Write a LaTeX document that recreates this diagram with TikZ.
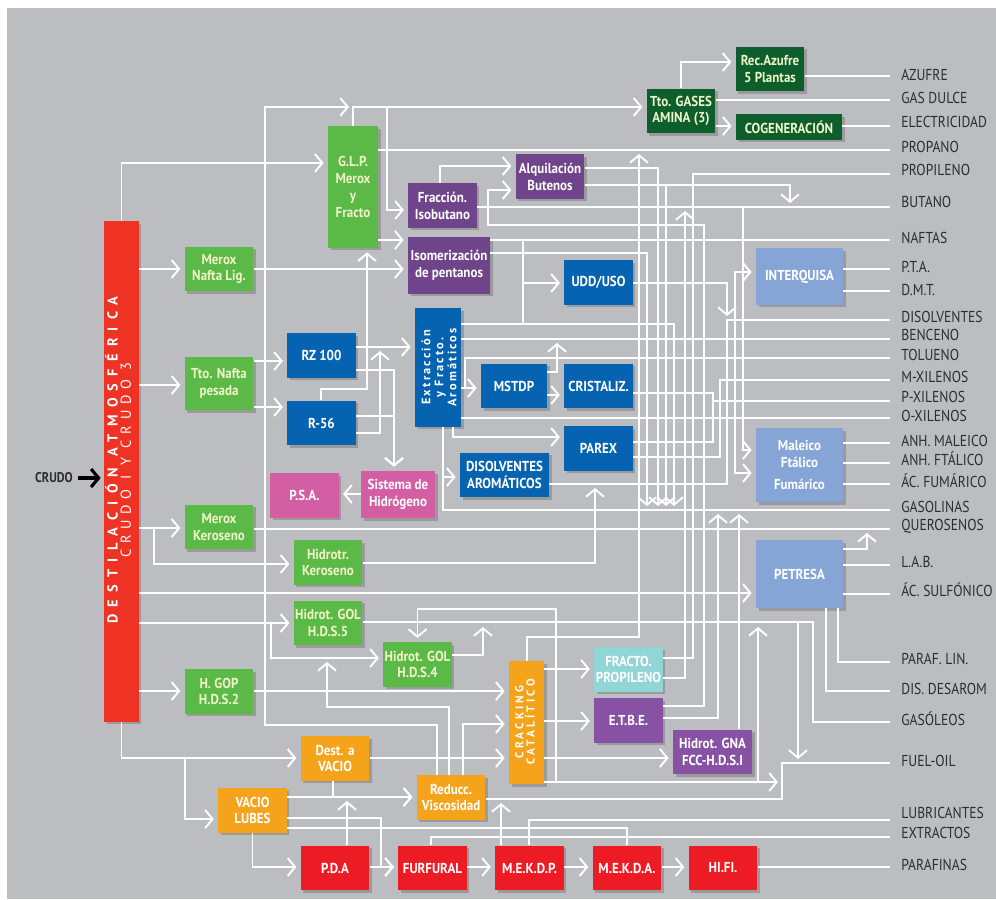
\documentclass[tikz,border=0pt]{standalone}
\usepackage{fontspec}
\setmainfont{PT Sans}
\newfontfamily\boxfamily[FakeStretch=0.9]{PT Sans}
\newfontfamily\lblfamily[FakeStretch=0.86]{PT Sans}
\newfontfamily\ttlfamily[LetterSpace=50]{PT Sans}
\newfontfamily\subfamily[LetterSpace=40]{PT Sans}
\newfontfamily\vertfamily[LetterSpace=18]{PT Sans}
\newfontfamily\crkfamily[LetterSpace=28]{PT Sans}
\usetikzlibrary{arrows.meta,shadows}
\definecolor{refbg}{RGB}{188,189,192}
\definecolor{refred}{RGB}{238,50,36}
\definecolor{refcrimson}{RGB}{237,28,36}
\definecolor{refgreen}{RGB}{91,185,71}
\definecolor{refdkgreen}{RGB}{12,94,44}
\definecolor{refpurple}{RGB}{112,68,138}
\definecolor{refviolet}{RGB}{135,82,163}
\definecolor{refblue}{RGB}{6,99,177}
\definecolor{reflight}{RGB}{134,165,215}
\definecolor{refpink}{RGB}{212,94,164}
\definecolor{refcyan}{RGB}{146,213,214}
\definecolor{reforange}{RGB}{246,163,28}
\definecolor{reftext}{RGB}{45,45,45}
\definecolor{refpale}{RGB}{240,244,200}

\begin{document}
\begin{tikzpicture}[x=0.02cm, y=-0.02cm,
  every node/.style={inner sep=0pt},
  unitbox/.style={rectangle, minimum width=1.37cm, minimum height=0.89cm,
                  align=center, text=white,
                  font=\boxfamily\bfseries\fontsize{8.2}{9.6}\selectfont,
                  drop shadow={shadow xshift=0.05cm, shadow yshift=-0.05cm,
                               fill=black, opacity=0.18}},
  grn/.style={unitbox, fill=refgreen, text=refpale},
  dgrn/.style={unitbox, fill=refdkgreen, text=refpale},
  prp/.style={unitbox, fill=refpurple},
  vio/.style={unitbox, fill=refviolet},
  blu/.style={unitbox, fill=refblue},
  lgt/.style={unitbox, fill=reflight},
  pnk/.style={unitbox, fill=refpink},
  cyn/.style={unitbox, fill=refcyan},
  org/.style={unitbox, fill=reforange},
  rbox/.style={unitbox, fill=refcrimson},
  prod/.style={anchor=west, inner xsep=0.22cm, text=reftext,
               font=\lblfamily\fontsize{9}{10}\selectfont},
  flow/.style={white, line width=1.1pt},
  feed/.style={flow, -{Straight Barb[length=0.15cm,width=0.36cm]}, shorten >=0.08cm},
]

%% ── Background ─────────────────────────────────────────────────────────
\useasboundingbox (0,0) rectangle (996,899);
\fill[white] (0,0) rectangle (996,899);
\fill[refbg] (7,8) rectangle (996,899);

%% ── Units ──────────────────────────────────────────────────────────────
\node[unitbox, fill=refred, minimum width=0.70cm, minimum height=10.02cm] (dest) at (121.5,471.5) {};
\node[rotate=90, align=center, text=white, font=\fontsize{8.2}{7.6}\selectfont] (desttxt) at (118,460)
  {{\ttlfamily\bfseries DESTILACIÓN ATMOSFÉRICA}\\{\subfamily CRUDO I Y CRUDO 3}};

\node[grn] (meroxNL) at (219,269) {Merox\\Nafta Lig.};
\node[grn, minimum width=1.0cm, minimum height=2.44cm] (glp) at (353,187) {G.L.P.\\Merox\\y\\Fracto};
\node[prp] (fracc) at (442.5,205.5) {Fracción.\\Isobutano};
\node[prp, minimum width=1.64cm, minimum height=1.14cm] (isom) at (449,265.5) {Isomerización\\de pentanos};
\node[prp] (alqui) at (550,176.5) {Alquilación\\Butenos};
\node[dgrn] (ttogas) at (681,111) {Tto. GASES\\AMINA (3)};
\node[dgrn] (recaz) at (770,69) {Rec.Azufre\\5 Plantas};
\node[dgrn, minimum width=2.12cm, minimum height=0.52cm] (cogen) at (789,127) {COGENERACIÓN};
\node[blu] (uddus) at (598.5,282.5) {UDD/USO};
\node[lgt, minimum width=1.74cm, minimum height=1.14cm] (interq) at (799.5,276.5) {INTERQUISA};

\node[grn, minimum height=1.06cm] (ttonafta) at (219,383.5) {Tto. Nafta\\pesada};
\node[blu] (rz) at (321.5,355.5) {RZ 100};
\node[blu] (r56) at (321.5,423) {R-56};
\node[blu, minimum width=0.92cm, minimum height=2.38cm] (extrac) at (438,367.5) {};
\node[rotate=90, align=center, text=white,
      font=\vertfamily\bfseries\fontsize{7}{7.4}\selectfont] (extractxt) at (439,367.5)
  {Extracción\\y Fracto.\\Aromáticos};
\node[blu, minimum width=1.32cm] (mstdp) at (514,386) {MSTDP};
\node[blu] (crist) at (598.5,386) {CRISTALIZ.};
\node[blu] (parex) at (598.5,448.5) {PAREX};
\node[blu, minimum width=1.78cm] (disarom) at (504.5,475) {DISOLVENTES\\AROMÁTICOS};
\node[pnk, minimum width=1.48cm, minimum height=0.94cm] (sistH) at (398,494.5) {Sistema de\\Hidrógeno};
\node[pnk] (psa) at (304.5,495.5) {P.S.A.};
\node[grn] (meroxK) at (219,527) {Merox\\Keroseno};
\node[grn] (hidrK) at (328,562.5) {Hidrotr.\\Keroseno};
\node[lgt, minimum width=1.74cm, minimum height=1.48cm] (malei) at (799.5,465) {Maleico\\Ftálico\\[0.1cm]Fumárico};
\node[lgt, minimum width=1.74cm, minimum height=1.36cm] (petresa) at (799.5,574) {PETRESA};

\node[grn] (hds5) at (328,623) {Hidrot. GOL\\H.D.S.5};
\node[grn] (hds4) at (417.5,664.5) {Hidrot. GOL\\H.D.S.4};
\node[grn] (hgop) at (219,691.5) {H. GOP\\H.D.S.2};
\node[org, minimum width=0.70cm, minimum height=2.46cm] (crack) at (526.5,722.5) {};
\node[rotate=90, align=center, text=white,
      font=\crkfamily\bfseries\fontsize{6.5}{6.3}\selectfont] (cracktxt) at (525,722)
  {CRACKING\\CATALÍTICO};
\node[cyn] (fracto) at (628.5,669.5) {FRACTO.\\PROPILENO};
\node[vio] (etbe) at (628.5,720.5) {E.T.B.E.};
\node[vio, minimum width=1.58cm] (hgna) at (712.5,752) {Hidrot. GNA\\FCC-H.D.S.I};

\node[org] (destvac) at (335,758.5) {Dest. a\\VACIO};
\node[org] (vaclub) at (252.5,810.5) {VACIO\\LUBES};
\node[org] (reducc) at (451,797.5) {Reducc.\\Viscosidad};
\node[rbox] (pda) at (335,868) {P.D.A};
\node[rbox] (furf) at (432.5,868) {FURFURAL};
\node[rbox] (mekdp) at (529.5,868) {M.E.K.D.P.};
\node[rbox] (mekda) at (627,868) {M.E.K.D.A.};
\node[rbox] (hifi) at (723,868) {HI.FI.};

%% ── Products ───────────────────────────────────────────────────────────
\foreach \nm/\ty/\txt in {azufre/75/AZUFRE, gasdul/98/GAS DULCE, elect/122/ELECTRICIDAD,
    propano/147/PROPANO, propil/170/PROPILENO, butano/202/BUTANO, naftas/238/NAFTAS,
    pta/267/P.T.A., dmt/290/D.M.T., disolv/317/DISOLVENTES, benc/335/BENCENO,
    tolu/355/TOLUENO, mxil/377/M-XILENOS, pxil/397/P-XILENOS, oxil/416/O-XILENOS,
    amal/441/ANH. MALEICO, afta/459/ANH. FTÁLICO, afum/481/ÁC. FUMÁRICO,
    gasol/507/GASOLINAS, queros/526/QUEROSENOS, lab/562/L.A.B., sulf/590/ÁC. SULFÓNICO,
    paraf/659/PARAF. LIN., disdes/689/DIS. DESAROM, gasoleo/719/GASÓLEOS,
    fuel/761/FUEL-OIL, lubric/813/LUBRICANTES, extract/833/EXTRACTOS,
    parafinas/865/PARAFINAS}
  \node[prod] (\nm) at (890,\ty) {\txt};

%% ── Crude feed ─────────────────────────────────────────────────────────
\node[text=reftext, font=\lblfamily\bfseries\fontsize{8}{9}\selectfont] (crudo) at (54,478) {CRUDO};
\draw[black, line width=1.8pt, -{Straight Barb[length=0.15cm,width=0.36cm]},
      shorten <=0.1cm, shorten >=0.06cm] (crudo.east) -- (dest.west |- crudo.east);

%% ── Light ends ─────────────────────────────────────────────────────────
\draw[feed] (dest.north) |- (glp.west |- 0,163);
\draw[feed] (437,0 |- reducc.north) |- (265,725) |- (glp.north |- 0,107);
\draw[feed] (glp.north) |- (ttogas.west |- 0,107);
\draw[feed] (glp.north) |- (387,107) |- (fracc.west |- 0,210);
\draw[flow] (glp.east |- 0,150) -- (propano.west |- 0,150);
\draw[feed] (glp.east |- 0,240) -- (isom.west |- 0,240);
\draw[feed] (dest.east |- 0,269) -- (meroxNL.west |- 0,269);
\draw[feed] (meroxNL.east |- 0,269) -- (isom.west |- 0,269);
\draw[feed] (ttogas.north) |- (recaz.west |- 0,62);
\draw[flow] (ttogas.east |- 0,100) -- (gasdul.west |- 0,100);
\draw[feed] (ttogas.east |- 0,126) -- (cogen.west |- 0,126);
\draw[flow] (recaz.east |- 0,76) -- (azufre.west |- 0,76);
\draw[flow] (cogen.east |- 0,126) -- (elect.west |- 0,126);

%% ── C4 / C5 ────────────────────────────────────────────────────────────
\draw[feed] (440,0 |- fracc.north) |- (alqui.west |- 0,166);
\draw[flow] (fracc.east |- 0,207) -- (butano.west |- 0,207);
\draw[feed] (fracc.east |- 0,207) -| (743,450) -- (malei.west |- 0,450);
\draw[feed] (alqui.east |- 0,185) -| (790,207);
\draw[feed] (alqui.east |- 0,168) -| (658,510);
\draw[feed] (alqui.east |- 0,185) -| (666,510);
\draw[flow] (isom.east |- 0,240) -- (naftas.west |- 0,240);
\draw[flow] (isom.east |- 0,240) -| (523,324);
\draw[feed] (isom.east |- 0,240) -| (523,283) -- (uddus.west |- 0,283);
\draw[feed] (isom.east |- 0,253) -| (647,510);
\draw[feed] (uddus.east |- 0,283) -| (727,320);
\draw[flow] (interq.east |- 0,269) -- (pta.west |- 0,269);
\draw[flow] (interq.east |- 0,291) -- (dmt.west |- 0,291);

%% ── Reforming and aromatics ────────────────────────────────────────────
\draw[feed] (dest.east |- 0,385) -- (ttonafta.west |- 0,385);
\draw[feed] (ttonafta.east |- 0,361) -- (rz.west |- 0,361);
\draw[feed] (ttonafta.east |- 0,407) -- (r56.west |- 0,407);
\draw[feed] (rz.east |- 0,347) -- (extrac.west |- 0,347);
\draw[feed] (rz.east |- 0,370) -| (394,0 |- sistH.north);
\draw[feed] (r56.east |- 0,416) -| (394,0 |- sistH.north);
\draw[feed] (r56.east |- 0,433) -| (380,347);
\draw[feed] (321,0 |- r56.north) |- (367,389) -- (glp.south -| 367,0);
\draw[feed] (sistH.west |- 0,494) -- (psa.east |- 0,494);

\draw[feed] (extrac.east |- 0,324) -| (674,510);
\draw[flow] (extrac.east |- 0,339) -- (benc.west |- 0,339);
\draw[feed] (extrac.east |- 0,388) -- (mstdp.west |- 0,388);
\draw[flow] (extrac.east |- 0,388) -| (465,358) -- (tolu.west |- 0,358);
\draw[flow] (extrac.east |- 0,418) -- (oxil.west |- 0,418);
\draw[feed] (453,0 |- extrac.south) |- (parex.west |- 0,437);
\draw[feed] (443,0 |- extrac.south) |- (disarom.west |- 0,477);
\draw[flow] (443,0 |- extrac.south) |- (gasol.west |- 0,510);
\draw[feed] (mstdp.east |- 0,395) -- (crist.west |- 0,395);
\draw[feed] (mstdp.east |- 0,372) -| (557,339);
\draw[flow] (crist.east |- 0,393) -| (713,401) -- (pxil.west |- 0,401);
\draw[flow] (parex.east |- 0,442) -| (713,401);
\draw[flow] (parex.east |- 0,457) -| (720,380) -- (mxil.west |- 0,380);
\draw[feed] (crist.east |- 0,393) -| (713,401) -| (735,272) -- (interq.west |- 0,272);
\draw[feed] (crist.east |- 0,393) -| (713,401) -| (735,473) -- (malei.west |- 0,473);
\draw[flow] (disarom.east |- 0,484) -| (727,320) -- (disolv.west |- 0,320);
\draw[flow] (malei.east |- 0,443) -- (amal.west |- 0,443);
\draw[flow] (malei.east |- 0,463) -- (afta.west |- 0,463);
\draw[flow] (malei.east |- 0,484) -- (afum.west |- 0,484);

%% ── Kerosene and PETRESA ───────────────────────────────────────────────
\draw[feed] (dest.east |- 0,528) -- (meroxK.west |- 0,528);
\draw[feed] (dest.east |- 0,528) -| (154,564) -- (hidrK.west |- 0,564);
\draw[flow] (meroxK.east |- 0,529) -- (queros.west |- 0,529);
\draw[feed] (hidrK.east |- 0,563) -| (595,484);
\draw[feed] (dest.east |- 0,593) -- (petresa.west |- 0,593);
\draw[feed] (petresa.east |- 0,549) -| (867,529);
\draw[flow] (petresa.east |- 0,565) -- (lab.west |- 0,565);
\draw[flow] (petresa.east |- 0,594) -- (sulf.west |- 0,594);
\draw[flow] (838,0 |- petresa.south) |- (paraf.west |- 0,662);
\draw[flow] (826,0 |- petresa.south) |- (disdes.west |- 0,691);

%% ── Gas oils and FCC ───────────────────────────────────────────────────
\draw[feed] (dest.east |- 0,623) -- (hds5.west |- 0,623);
\draw[feed] (dest.east |- 0,623) -| (271,658) -- (hds4.west |- 0,658);
\draw[flow] (hds5.east |- 0,622) -| (813,722) -- (gasoleo.west |- 0,722);
\draw[feed] (hds5.east |- 0,622) -| (798,763);
\draw[feed] (hds4.east |- 0,655) -| (483,623);
\draw[feed] (dest.east |- 0,691) -- (hgop.west |- 0,691);
\draw[feed] (hgop.east |- 0,691) -- (crack.west |- 0,691);
\draw[feed] (527,0 |- crack.north) |- (639,637) -- (639,150);
\draw[feed] (crack.east |- 0,669) -- (fracto.west |- 0,669);
\draw[feed] (crack.east |- 0,721) -- (etbe.west |- 0,721);
\draw[feed] (crack.east |- 0,758) -- (hgna.west |- 0,758);
\draw[feed] (crack.east |- 0,782) -- (782,782);
\draw[feed] (crack.east |- 0,782) -| (758,623);
\draw[feed] (crack.east |- 0,782) -| (556,609) -| (hds4.north);
\draw[flow] (fracto.east |- 0,658) -| (693,174) -- (propil.west |- 0,174);
\draw[feed] (fracto.east |- 0,678) -| (685,207);
\draw[feed] (etbe.east |- 0,718) -| (718,510);
\draw[feed] (etbe.east |- 0,706) -| (704,225) -| (488,190) -- (alqui.west |- 0,190);
\draw[feed] (hgna.north -| 739,0) -- (739,510);

%% ── Vacuum, visbreaking and lubes ──────────────────────────────────────
\draw[feed] (dest.south) |- (destvac.west |- 0,758);
\draw[feed] (dest.south) |- (185,758) |- (vaclub.west |- 0,819);
\draw[feed] (destvac.east |- 0,758) -- (crack.west |- 0,758);
\draw[feed] (449,0 |- reducc.north) |- (327,707) -- (327,658);
\draw[feed] (463,0 |- reducc.north) |- (crack.west |- 0,724);
\draw[feed] (vaclub.east |- 0,797) -- (reducc.west |- 0,797);
\draw[feed] (333,0 |- destvac.south) |- (reducc.west |- 0,797);
\draw[feed] (347,0 |- pda.north) -- (347,797);
\draw[feed] (501,0 |- mekdp.north) -- (501,799);
\draw[flow] (reducc.east |- 0,799) -| (782,763) -- (fuel.west |- 0,763);
\draw[feed] (vaclub.east |- 0,818) -| (381,867) -- (furf.west |- 0,867);
\draw[flow] (vaclub.east |- 0,828) -| (627,0 |- mekda.north);
\draw[feed] (vaclub.south) |- (pda.west |- 0,867);
\draw[feed] (pda.east |- 0,867) -- (furf.west |- 0,867);
\draw[feed] (furf.east |- 0,867) -- (mekdp.west |- 0,867);
\draw[feed] (mekdp.east |- 0,867) -- (mekda.west |- 0,867);
\draw[feed] (mekda.east |- 0,867) -- (hifi.west |- 0,867);
\draw[flow] (hifi.east |- 0,867) -- (parafinas.west |- 0,867);
\draw[flow] (431,0 |- furf.north) |- (extract.west |- 0,837);
\draw[flow] (529,0 |- mekdp.north) |- (lubric.west |- 0,820);

\end{tikzpicture}
\end{document}
